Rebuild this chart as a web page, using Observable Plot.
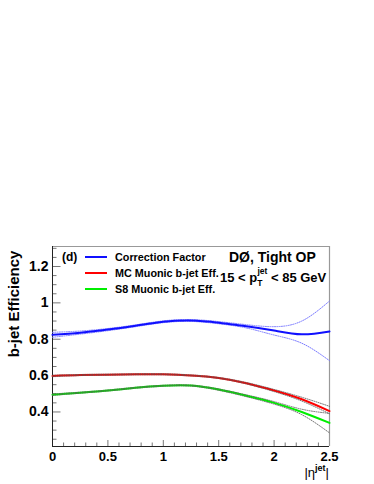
<!DOCTYPE html>
<html>
<head>
<meta charset="utf-8">
<script src="https://cdn.jsdelivr.net/npm/d3@7"></script>
<script src="https://cdn.jsdelivr.net/npm/@observablehq/plot@0.6"></script>
<style>
  html, body { margin: 0; padding: 0; background: #fff; }
  svg { display: block; }
</style>
</head>
<body>
<div id="chart"></div>
<script>
// ---- data ----
const eta = [0, 0.25, 0.5, 0.75, 1.0, 1.25, 1.5, 1.75, 2.0, 2.25, 2.5];

const corrFactor   = [0.824, 0.836, 0.853, 0.874, 0.896, 0.903, 0.891, 0.872, 0.848, 0.827, 0.843];
const corrFactorHi = [0.838, 0.845, 0.859, 0.879, 0.901, 0.908, 0.897, 0.880, 0.869, 0.900, 1.010];
const corrFactorLo = [0.811, 0.828, 0.847, 0.869, 0.891, 0.898, 0.885, 0.862, 0.823, 0.778, 0.682];

const mcEff   = [0.598, 0.603, 0.605, 0.607, 0.607, 0.601, 0.587, 0.558, 0.518, 0.470, 0.405];
const mcEffHi = [0.602, 0.606, 0.608, 0.610, 0.610, 0.604, 0.590, 0.562, 0.524, 0.481, 0.431];
const mcEffLo = [0.594, 0.600, 0.602, 0.604, 0.604, 0.598, 0.584, 0.554, 0.512, 0.460, 0.390];

const s8Eff   = [0.495, 0.506, 0.518, 0.533, 0.544, 0.545, 0.523, 0.489, 0.450, 0.400, 0.340];
const s8EffHi = [0.499, 0.509, 0.521, 0.536, 0.547, 0.548, 0.527, 0.494, 0.457, 0.415, 0.392];
const s8EffLo = [0.491, 0.503, 0.515, 0.530, 0.541, 0.542, 0.519, 0.484, 0.443, 0.385, 0.285];

const legendLabels = ["Correction Factor", "MC Muonic b-jet Eff.", "S8 Muonic b-jet Eff."];
const legendColors = ["#1010ff", "#ff0000", "#00ee00"];

const xMajor = [0, 0.5, 1, 1.5, 2, 2.5];
const xMinor = d3.range(1, 25).map(i => i / 10).filter(v => !xMajor.some(m => Math.abs(m - v) < 1e-9));
const yMajor = [0.4, 0.6, 0.8, 1, 1.2];
const yMinor = d3.range(5, 27).map(i => i * 0.05).filter(v => !yMajor.some(m => Math.abs(m - v) < 1e-9));
const xDomain = [0, 2.5];
const yDomain = [0.21, 1.31];

// ---- layout ----
const W = 374, H = 484;
const mL = 52, mR = 45, mT = 246, mB = 38;
const plotW = W - mL - mR, plotH = H - mT - mB;
const FONT = "'Liberation Sans', Arial, Helvetica, sans-serif";

const rows = eta.map((e, i) => ({
  eta: e,
  cf: corrFactor[i], cfHi: corrFactorHi[i], cfLo: corrFactorLo[i],
  mc: mcEff[i], mcHi: mcEffHi[i], mcLo: mcEffLo[i],
  s8: s8Eff[i], s8Hi: s8EffHi[i], s8Lo: s8EffLo[i]
}));

const curve = "natural";
const dotted = "1 1.3";

const svg = Plot.plot({
  width: W, height: H,
  marginLeft: mL, marginRight: mR, marginTop: mT, marginBottom: mB,
  style: { fontFamily: FONT, background: "#fff" },
  x: { domain: xDomain, axis: null },
  y: { domain: yDomain, axis: null },
  marks: [
    // ticks (inward)
    Plot.tickY(yMinor, { y: d => d, insetRight: plotW - 4.5, stroke: "#777" }),
    Plot.tickY(yMajor, { y: d => d, insetRight: plotW - 8.5, stroke: "#777" }),
    Plot.tickX(xMinor, { x: d => d, insetTop: plotH - 3.5, stroke: "#777" }),
    Plot.tickX(xMajor, { x: d => d, insetTop: plotH - 6, stroke: "#777" }),
    // frame
    Plot.ruleY([yDomain[1]], { stroke: "#999" }),
    Plot.ruleX([xDomain[1]], { stroke: "#999", strokeWidth: 1.2 }),
    Plot.ruleY([yDomain[0]], { stroke: "#222" }),
    Plot.ruleX([xDomain[0]], { stroke: "#222" }),
    // correction factor
    Plot.line(rows, { x: "eta", y: "cfHi", stroke: "#7a7aff", strokeWidth: 1, strokeDasharray: dotted, curve }),
    Plot.line(rows, { x: "eta", y: "cfLo", stroke: "#7a7aff", strokeWidth: 1, strokeDasharray: dotted, curve }),
    Plot.line(rows, { x: "eta", y: "cf", stroke: legendColors[0], strokeWidth: 2, curve }),
    // MC
    Plot.line(rows, { x: "eta", y: "mc", stroke: legendColors[1], strokeWidth: 2, curve }),
    Plot.line(rows, { x: "eta", y: "mcHi", stroke: "#555", strokeWidth: 0.8, strokeDasharray: dotted, curve }),
    Plot.line(rows, { x: "eta", y: "mcLo", stroke: "#555", strokeWidth: 0.8, strokeDasharray: dotted, curve }),
    // S8
    Plot.line(rows, { x: "eta", y: "s8", stroke: legendColors[2], strokeWidth: 2, curve }),
    Plot.line(rows, { x: "eta", y: "s8Hi", stroke: "#555", strokeWidth: 0.8, strokeDasharray: dotted, curve }),
    Plot.line(rows, { x: "eta", y: "s8Lo", stroke: "#555", strokeWidth: 0.8, strokeDasharray: dotted, curve }),
    // axes labels
    Plot.axisY(yMajor, { tickSize: 0, tickPadding: 4, fontSize: 14, fontWeight: "bold", label: null, tickFormat: d => String(d), fill: "#000" }),
    Plot.axisX(xMajor, { tickSize: 0, tickPadding: 5, fontSize: 13, fontWeight: "bold", label: null, tickFormat: d => String(d), fill: "#000" })
  ]
});

document.getElementById("chart").appendChild(svg);

const s = d3.select(svg);
// y-axis title
s.append("text")
  .attr("transform", "translate(19,304) rotate(-90)")
  .attr("text-anchor", "middle")
  .attr("font-family", FONT).attr("font-weight", "bold").attr("font-size", 15)
  .attr("fill", "#000")
  .text("b-jet Efficiency");

// x-axis title |η^jet|
const xt = s.append("text")
  .attr("x", 329).attr("y", 477)
  .attr("text-anchor", "end")
  .attr("font-family", FONT).attr("font-size", 13).attr("fill", "#000");
xt.append("tspan").text("|η");
xt.append("tspan").attr("dy", -6).attr("font-size", 9).attr("font-weight", "bold").text("jet");
xt.append("tspan").attr("dy", 6).text("|");

// panel tag
s.append("text").attr("x", 62).attr("y", 261).attr("text-anchor", "start")
  .attr("font-family", FONT).attr("font-weight", "bold").attr("font-size", 12).attr("fill", "#000")
  .text("(d)");

// legend
legendLabels.forEach((lab, i) => {
  const yy = 257 + i * 16;
  s.append("line").attr("x1", 85).attr("x2", 107).attr("y1", yy).attr("y2", yy)
    .attr("stroke", legendColors[i]).attr("stroke-width", 2);
  s.append("text").attr("x", 115).attr("y", yy + 4).attr("text-anchor", "start")
    .attr("font-family", FONT).attr("font-weight", "bold").attr("font-size", 10.8).attr("fill", "#000")
    .text(lab);
});

// experiment label
s.append("text").attr("x", 229).attr("y", 262).attr("text-anchor", "start")
  .attr("font-family", FONT).attr("font-weight", "bold").attr("font-size", 14).attr("fill", "#000")
  .text("DØ, Tight OP");

const pt = s.append("text").attr("x", 220).attr("y", 282).attr("text-anchor", "start")
  .attr("font-family", FONT).attr("font-weight", "bold").attr("font-size", 13).attr("fill", "#000");
pt.append("tspan").text("15 < p");
pt.append("tspan").attr("dy", 4).attr("font-size", 8.5).text("T");
pt.append("tspan").attr("dx", -5).attr("dy", -12).attr("font-size", 8.5).text("jet");
pt.append("tspan").attr("dy", 8).text(" < 85 GeV");
</script>
</body>
</html>
